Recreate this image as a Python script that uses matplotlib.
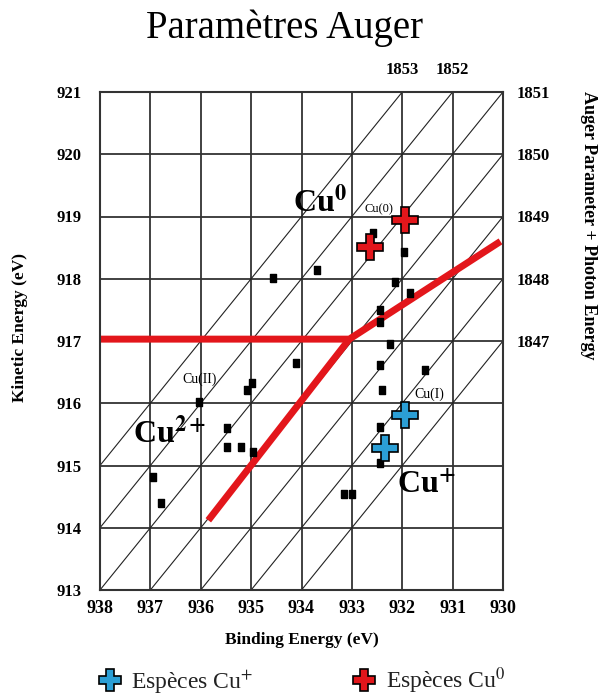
import numpy as np
import matplotlib
matplotlib.use('Agg')
import matplotlib.pyplot as plt
from matplotlib.lines import Line2D

plt.rcParams['font.family'] = ['Liberation Serif', 'DejaVu Serif']
plt.rcParams['mathtext.fontset'] = 'stix'

# axes ranges (binding energy reversed)
be_ticks = [938, 937, 936, 935, 934, 933, 932, 931, 930]
ke_ticks = [913, 914, 915, 916, 917, 918, 919, 920, 921]
# Auger parameter + photon energy labels on the right / top
ap_right = [1847, 1848, 1849, 1850, 1851]
ap_top = [1853, 1852]
# diagonal lines of constant KE + BE
ap_lines = [1847, 1848, 1849, 1850, 1851, 1852, 1853]

# red guide line
red_upper_be = [938.0, 933.05, 930.05]
red_upper_ke = [917.03, 917.03, 918.6]
red_lower_be = [933.05, 935.85]
red_lower_ke = [917.03, 914.12]

# literature points (small black marks)
lit_be = [934.56, 933.70, 932.58, 931.97, 932.15, 931.85, 932.44, 932.44, 932.25,
          934.10, 932.44, 931.55, 932.41, 932.44, 932.44, 933.15, 933.00,
          934.99, 935.09, 936.03, 935.47, 935.47, 935.21, 934.96, 936.95, 936.79]
lit_ke = [918.01, 918.14, 918.74, 918.43, 917.95, 917.77, 917.50, 917.30, 916.95,
          916.64, 916.61, 916.53, 916.21, 915.62, 915.04, 914.55, 914.55,
          916.32, 916.21, 916.02, 915.60, 915.30, 915.30, 915.21, 914.82, 914.39]

# measured species
cu1_be = [931.95, 932.35]
cu1_ke = [915.81, 915.28]
cu0_be = [932.64, 931.95]
cu0_ke = [918.51, 918.94]

blue = '#2b9fd6'
red = '#e3161b'
grid_col = '#333333'

fig = plt.figure(figsize=(6.03, 6.96), dpi=100)
ax = fig.add_axes([100/603, 1-590/696, 403/603, 498/696])
ax.set_xlim(938, 930)
ax.set_ylim(913, 921)

for b in be_ticks:
    ax.axvline(b, color=grid_col, lw=1.3, zorder=1)
for k in ke_ticks:
    ax.axhline(k, color=grid_col, lw=1.3, zorder=1)

be_line = np.array([929.0, 939.0])
for ap in ap_lines:
    ax.plot(be_line, ap - be_line, color='#222222', lw=0.8, zorder=1)

ax.plot(red_upper_be, red_upper_ke, color=red, lw=5, solid_capstyle='butt',
        solid_joinstyle='miter', zorder=2)
ax.plot(red_lower_be, red_lower_ke, color=red, lw=5, solid_capstyle='butt', zorder=2)

rect = [(-0.33, -0.5), (0.33, -0.5), (0.33, 0.5), (-0.33, 0.5), (-0.33, -0.5)]
ax.plot(lit_be, lit_ke, ls='none', marker=rect, ms=6, color='black', zorder=3)

ax.plot(cu1_be, cu1_ke, ls='none', marker='P', ms=19, mfc=blue, mec='black',
        mew=1.2, zorder=4)
ax.plot(cu0_be, cu0_ke, ls='none', marker='P', ms=19, mfc=red, mec='black',
        mew=1.2, zorder=4)

# labels in the plot
ax.text(934.17, 919.07, r'Cu$^{\mathbf{0}}$', fontsize=23, fontweight='bold', zorder=5)
ax.text(937.35, 915.36, r'Cu$^{\mathbf{2+}}$', fontsize=23, fontweight='bold', zorder=5)
ax.text(932.11, 914.56, r'Cu$^{\mathbf{+}}$', fontsize=23, fontweight='bold', zorder=5)
ax.text(936.37, 916.33, 'Cu(II)', fontsize=10, zorder=5)
ax.text(931.75, 916.08, 'Cu(I)', fontsize=10, zorder=5)
ax.text(932.74, 919.07, 'Cu(0)', fontsize=9, zorder=5)

ax.set_xticks(be_ticks)
ax.set_yticks(ke_ticks)
ax.tick_params(length=0)
ax.tick_params(axis='x', pad=7, labelsize=13)
ax.tick_params(axis='y', pad=13, labelsize=12)
for lab in ax.get_xticklabels() + ax.get_yticklabels():
    lab.set_fontweight('bold')
for sp in ax.spines.values():
    sp.set_color(grid_col)
    sp.set_linewidth(1.5)

axr = ax.twinx()
axr.set_ylim(913, 921)
axr.set_yticks([a - 930 for a in ap_right])
axr.set_yticklabels([str(a) for a in ap_right], fontweight='bold')
axr.tick_params(length=0, pad=10, labelsize=12)

axt = ax.twiny()
axt.set_xlim(938, 930)
axt.set_xticks([a - 921 for a in ap_top])
axt.set_xticklabels([str(a) for a in ap_top], fontweight='bold')
axt.tick_params(length=0, pad=10, labelsize=12)
for a in (axr, axt):
    for sp in a.spines.values():
        sp.set_visible(False)

fig.text(285/603, 1-38/696, 'Paramètres Auger', fontsize=28, ha='center', va='baseline')
fig.text(302/603, 1-640/696, 'Binding Energy (eV)', fontsize=12.5, fontweight='bold',
         ha='center', va='center')
fig.text(20/603, 1-327/696, 'Kinetic Energy (eV)', fontsize=12.5, fontweight='bold',
         rotation=90, ha='center', va='center')
fig.text(589/603, 1-225/696, 'Auger Parameter + Photon Energy', fontsize=13,
         fontweight='bold', rotation=270, ha='center', va='center')

handles = [Line2D([], [], ls='none', marker='P', ms=16, mfc=blue, mec='black', mew=1.2),
           Line2D([], [], ls='none', marker='P', ms=16, mfc=red, mec='black', mew=1.2)]
fig.legend(handles, ['Espèces Cu$^{+}$', 'Espèces Cu$^{0}$'], loc='center left',
           bbox_to_anchor=(98/603, 1-681/696), ncol=2, frameon=False, fontsize=17,
           borderpad=0, borderaxespad=0, handlelength=1.0, handletextpad=0.4,
           columnspacing=4.2, labelcolor='#222222')

fig.savefig('out.png', dpi=100)
